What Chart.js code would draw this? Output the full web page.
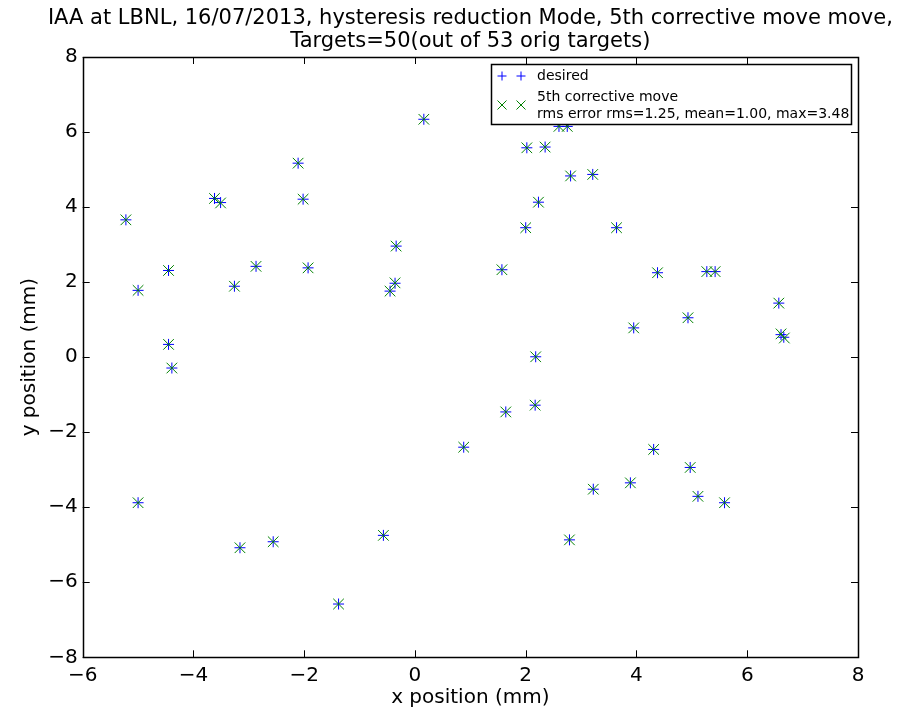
<!DOCTYPE html>
<html>
<head>
<meta charset="utf-8">
<script src="https://cdn.jsdelivr.net/npm/chart.js@4/dist/chart.umd.min.js"></script>
<style>
  html, body { margin: 0; padding: 0; background: #fff; }
  #wrap { width: 906px; height: 710px; }
</style>
</head>
<body>
<div id="wrap"><canvas id="chart" width="906" height="710"></canvas></div>
<script>
(function () {
  // desired target positions (mm)
  const xDesired = [-5.22, -5.00, -5.00, -4.45, -4.45, -4.39, -3.62, -3.51, -3.26, -3.16,
    -2.87, -2.56, -2.11, -2.02, -1.93, -1.38, -0.57, -0.45, -0.36, -0.34,
    0.16, 0.88, 1.57, 1.64, 2.02, 2.00, 2.18, 2.17, 2.23, 2.35,
    2.60, 2.75, 2.79, 2.81, 3.21, 3.22, 3.89, 3.64, 3.95, 4.31,
    4.38, 4.93, 4.97, 5.11, 5.27, 5.42, 5.59, 6.57, 6.61, 6.66];
  const yDesired = [3.66, 1.78, -3.88, 2.31, 0.34, -0.29, 4.23, 4.12, 1.89, -5.08,
    2.42, -4.92, 5.17, 4.21, 2.38, -6.58, -4.75, 1.76, 1.97, 2.96,
    6.34, -2.40, 2.33, -1.46, 5.58, 3.45, 0.01, -1.28, 4.13, 5.60,
    6.15, 6.15, -4.87, 4.83, 4.87, -3.52, -3.35, 3.45, 0.78, -2.46,
    2.25, 1.05, -2.94, -3.71, 2.28, 2.28, -3.88, 1.44, 0.60, 0.53];

  // positions after the 5th corrective move (mm)
  const xMoved = [-5.22, -5.00, -5.00, -4.45, -4.45, -4.39, -3.62, -3.51, -3.26, -3.16,
    -2.87, -2.56, -2.11, -2.02, -1.93, -1.38, -0.57, -0.45, -0.36, -0.34,
    0.16, 0.88, 1.57, 1.64, 2.02, 2.00, 2.18, 2.17, 2.23, 2.35,
    2.60, 2.75, 2.79, 2.81, 3.21, 3.22, 3.89, 3.64, 3.95, 4.31,
    4.38, 4.93, 4.97, 5.11, 5.27, 5.42, 5.59, 6.57, 6.61, 6.67];
  const yMoved = [3.66, 1.78, -3.88, 2.31, 0.34, -0.29, 4.23, 4.11, 1.89, -5.08,
    2.42, -4.92, 5.17, 4.21, 2.38, -6.58, -4.75, 1.76, 1.98, 2.96,
    6.34, -2.40, 2.33, -1.46, 5.58, 3.45, 0.01, -1.28, 4.13, 5.60,
    6.15, 6.15, -4.87, 4.83, 4.87, -3.52, -3.35, 3.45, 0.78, -2.46,
    2.25, 1.05, -2.94, -3.71, 2.28, 2.28, -3.88, 1.44, 0.62, 0.51];

  const xTicks = [-6, -4, -2, 0, 2, 4, 6, 8];
  const yTicks = [-8, -6, -4, -2, 0, 2, 4, 6, 8];

  const titleLines = [
    "IAA at LBNL, 16/07/2013, hysteresis reduction Mode, 5th corrective move move,",
    "Targets=50(out of 53 orig targets)"
  ];
  const legendDesired = "desired";
  const legendMoved = ["5th corrective move", "rms error rms=1.25, mean=1.00, max=3.48"];

  const FONT = "'DejaVu Sans', sans-serif";
  const BLUE = "#0000ff";
  const GREEN = "#008000";

  function toPoints(xs, ys) {
    return xs.map((x, i) => ({ x: x, y: ys[i] }));
  }

  function fmtTick(v) {
    return v < 0 ? "\u2212" + Math.abs(v) : String(v);
  }

  // frame + inward ticks on all four sides (matplotlib look)
  const framePlugin = {
    id: "frame",
    afterDatasetsDraw(chart) {
      const { ctx, chartArea: a, scales } = chart;
      const len = 7;
      ctx.save();
      ctx.strokeStyle = "#000";
      ctx.lineWidth = 1;
      ctx.beginPath();
      xTicks.forEach(v => {
        const px = Math.round(scales.x.getPixelForValue(v)) + 0.5;
        ctx.moveTo(px, a.bottom); ctx.lineTo(px, a.bottom - len);
        ctx.moveTo(px, a.top); ctx.lineTo(px, a.top + len);
      });
      yTicks.forEach(v => {
        const py = Math.round(scales.y.getPixelForValue(v)) + 0.5;
        ctx.moveTo(a.left, py); ctx.lineTo(a.left + len, py);
        ctx.moveTo(a.right, py); ctx.lineTo(a.right - len, py);
      });
      ctx.stroke();
      ctx.lineWidth = 1.5;
      ctx.strokeRect(Math.round(a.left) + 0.5, Math.round(a.top) + 0.5,
        Math.round(a.right - a.left), Math.round(a.bottom - a.top));
      ctx.restore();
    }
  };

  // two-line title centred over the axes
  const titlePlugin = {
    id: "figTitle",
    afterDraw(chart) {
      const ctx = chart.ctx;
      const a = chart.chartArea;
      const cx = (a.left + a.right) / 2;
      ctx.save();
      ctx.fillStyle = "#000";
      ctx.font = "21px " + FONT;
      ctx.textAlign = "center";
      ctx.textBaseline = "middle";
      ctx.fillText(titleLines[0], cx, 18.5);
      ctx.fillText(titleLines[1], cx, 42);
      ctx.restore();
    }
  };

  // matplotlib style legend with two markers per entry
  const legendPlugin = {
    id: "mplLegend",
    afterDraw(chart) {
      const ctx = chart.ctx;
      const box = { l: 491.5, t: 64.5, r: 851.5, b: 124.5 };
      ctx.save();
      ctx.fillStyle = "#fff";
      ctx.fillRect(box.l, box.t, box.r - box.l, box.b - box.t);
      ctx.strokeStyle = "#000";
      ctx.lineWidth = 1.5;
      ctx.strokeRect(box.l, box.t, box.r - box.l, box.b - box.t);

      ctx.lineWidth = 1;
      const mx = [502, 521];
      ctx.strokeStyle = BLUE;
      ctx.beginPath();
      mx.forEach(x => {
        ctx.moveTo(x - 4.5, 76); ctx.lineTo(x + 4.5, 76);
        ctx.moveTo(x, 71.5); ctx.lineTo(x, 80.5);
      });
      ctx.stroke();
      ctx.strokeStyle = GREEN;
      ctx.beginPath();
      mx.forEach(x => {
        ctx.moveTo(x - 4.5, 100.5); ctx.lineTo(x + 4.5, 109.5);
        ctx.moveTo(x - 4.5, 109.5); ctx.lineTo(x + 4.5, 100.5);
      });
      ctx.stroke();

      ctx.fillStyle = "#000";
      ctx.font = "14px " + FONT;
      ctx.textAlign = "left";
      ctx.textBaseline = "middle";
      ctx.fillText(legendDesired, 537, 76);
      ctx.fillText(legendMoved[0], 537, 97);
      ctx.fillText(legendMoved[1], 537, 114);
      ctx.restore();
    }
  };

  const ctx = document.getElementById("chart").getContext("2d");

  new Chart(ctx, {
    type: "scatter",
    data: {
      datasets: [
        {
          label: legendDesired,
          data: toPoints(xDesired, yDesired),
          pointStyle: "cross",
          pointRadius: 5.5,
          borderColor: BLUE,
          backgroundColor: BLUE,
          pointBorderWidth: 1,
          order: 2
        },
        {
          label: legendMoved.join("\n"),
          data: toPoints(xMoved, yMoved),
          pointStyle: "crossRot",
          pointRadius: 7.5,
          borderColor: GREEN,
          backgroundColor: GREEN,
          pointBorderWidth: 1,
          order: 1
        }
      ]
    },
    options: {
      responsive: false,
      animation: false,
      events: [],
      layout: { padding: { top: 57, right: 48, left: 0, bottom: 0 } },
      plugins: {
        legend: { display: false },
        title: { display: false },
        tooltip: { enabled: false }
      },
      scales: {
        x: {
          type: "linear",
          min: -6,
          max: 8,
          afterBuildTicks: s => { s.ticks = xTicks.map(v => ({ value: v })); },
          afterFit: s => { s.height = 52.7; },
          grid: { display: false, drawTicks: false },
          border: { display: false },
          ticks: {
            color: "#000",
            font: { family: FONT, size: 20 },
            padding: 6,
            maxRotation: 0,
            callback: v => fmtTick(v)
          },
          title: {
            display: true,
            text: "x position (mm)",
            color: "#000",
            font: { family: FONT, size: 20 },
            padding: { top: 0, bottom: 0 }
          }
        },
        y: {
          type: "linear",
          min: -8,
          max: 8,
          afterBuildTicks: s => { s.ticks = yTicks.map(v => ({ value: v })); },
          afterFit: s => { s.width = 82.7; },
          grid: { display: false, drawTicks: false },
          border: { display: false },
          ticks: {
            color: "#000",
            font: { family: FONT, size: 20 },
            padding: 5,
            callback: v => fmtTick(v)
          },
          title: {
            display: true,
            text: "y position (mm)",
            color: "#000",
            font: { family: FONT, size: 20 },
            padding: { top: 18, bottom: 0 }
          }
        }
      }
    },
    plugins: [framePlugin, titlePlugin, legendPlugin]
  });
})();
</script>
</body>
</html>
